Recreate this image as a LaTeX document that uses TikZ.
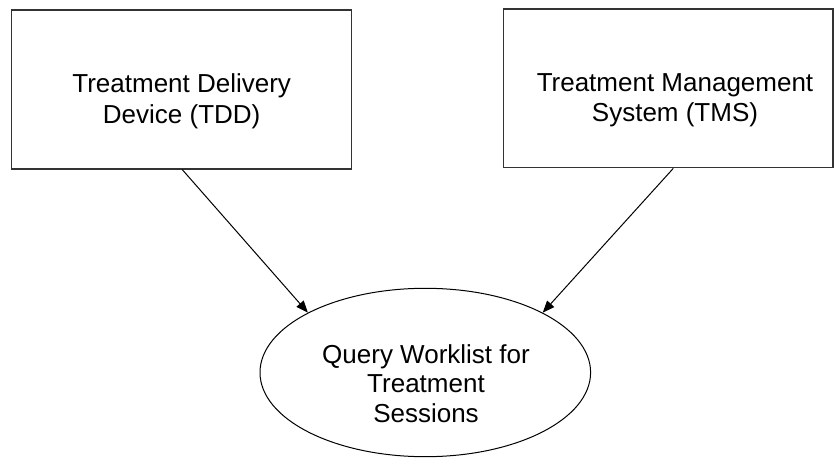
\documentclass[tikz,border=0pt]{standalone}
\usepackage{fontspec}
\setmainfont{Liberation Sans}
\usetikzlibrary{arrows.meta,shapes.geometric}
\begin{document}
\begin{tikzpicture}[x=1bp,y=-1bp,
  box/.style={draw=black!80,line width=1.3bp,rectangle,inner sep=0pt},
  oval/.style={draw=black,line width=1bp,ellipse,inner sep=0pt,minimum width=330.6bp,minimum height=168.4bp},
  lbl/.style={align=center,inner sep=0pt,font=\fontsize{26bp}{30.5bp}\selectfont},
  arr/.style={draw=black,line width=1bp,-{Triangle[length=12bp,width=9.5bp]}}]
\useasboundingbox (0,0) rectangle (834,458);
\node[box,minimum width=340bp,minimum height=159bp] (tdd) at (181.7,89.5) {};
\node[box,minimum width=329.7bp,minimum height=158.7bp] (tms) at (668.2,88.35) {};
\node[oval] (q) at (425.3,372.5) {};
\node[lbl] (tddtext) at (181.7,101.3) {Treatment Delivery\\Device (TDD)};
\node[lbl] (tmstext) at (675,100.3) {Treatment Management\\System (TMS)};
\node[lbl,font=\fontsize{26bp}{29.5bp}\selectfont] (qtext) at (426,383.5) {Query Worklist for\\Treatment\\Sessions};
\draw[arr] ([xshift=0.6bp]tdd.south) -- (q.153.6);
\draw[arr] ([xshift=5.1bp]tms.south) -- (q.27);
\end{tikzpicture}
\end{document}
